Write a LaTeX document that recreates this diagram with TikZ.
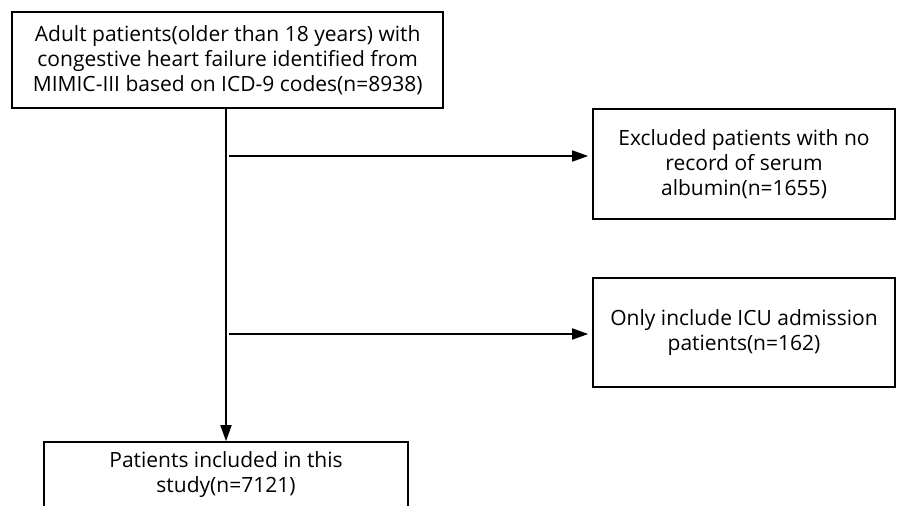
\documentclass[tikz,border=0pt]{standalone}
\usepackage{fontspec}
\setmainfont{Open Sans}
\usetikzlibrary{arrows.meta}
\begin{document}
\begin{tikzpicture}[x=1pt,y=-1pt,
  box/.style={draw,line width=1.6pt,align=center,inner sep=0pt,
    font=\fontsize{21}{25}\selectfont},
  conn/.style={line width=1.6pt,-{Triangle[length=16pt,width=11pt]}}]
\useasboundingbox (0,0) rectangle (897,506);
\node[box,minimum width=431pt,minimum height=96pt] (start) at (227.7,60)
  {Adult patients(older than 18 years) with\\congestive heart failure identified from\\MIMIC-III based on ICD-9 codes(n=8938)};
\node[box,minimum width=302pt,minimum height=110pt] (ex1) at (744,164)
  {Excluded patients with no\\record of serum\\albumin(n=1655)};
\node[box,minimum width=302pt,minimum height=109pt] (ex2) at (744,332.5)
  {Only include ICU admission\\patients(n=162)};
\node[box,minimum width=364pt,minimum height=66pt] (final) at (226,475)
  {Patients included in this\\study(n=7121)};
\coordinate (b1) at (229,156);
\coordinate (b2) at (229,334);
\draw[conn] (start.south -| final.north) -- (final.north);
\draw[conn,shorten >=4pt] (b1) -- (b1 -| ex1.west);
\draw[conn,shorten >=4pt] (b2) -- (b2 -| ex2.west);
\end{tikzpicture}
\end{document}
